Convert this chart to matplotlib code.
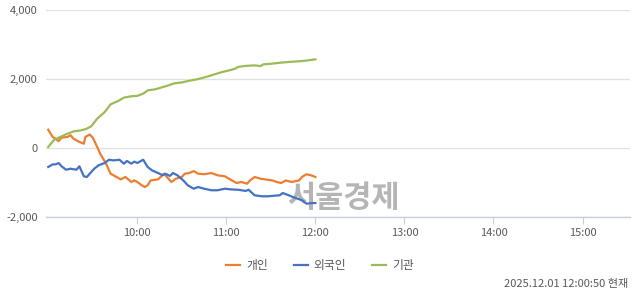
import matplotlib
matplotlib.use("Agg")
import matplotlib.pyplot as plt

plt.rcParams['font.family'] = ['Noto Sans CJK KR', 'DejaVu Sans']

# minutes since 09:00
green_t = [0, 4, 7, 13, 17, 22, 26, 29, 33, 38, 42, 47, 51, 56, 60, 64, 67, 72, 76, 81, 85, 90, 94, 99, 103, 108, 112, 117, 121, 126, 128, 133, 139, 143, 145, 151, 157, 164, 171, 175, 180]
green_v = [30, 240, 300, 415, 480, 510, 560, 630, 850, 1040, 1265, 1360, 1460, 1500, 1510, 1575, 1670, 1700, 1750, 1815, 1875, 1900, 1940, 1980, 2020, 2080, 2135, 2200, 2240, 2300, 2350, 2380, 2395, 2375, 2425, 2445, 2475, 2500, 2520, 2540, 2570]

orange_t = [0, 3, 5, 7, 9, 13, 15, 17, 21, 24, 25, 28, 30, 33, 35, 39, 42, 46, 49, 52, 56, 58, 60, 63, 65, 67, 69, 74, 78, 81, 83, 86, 90, 92, 95, 98, 101, 105, 110, 114, 119, 123, 127, 130, 134, 136, 139, 143, 146, 151, 154, 157, 160, 164, 169, 171, 174, 177, 180]
orange_v = [530, 320, 270, 200, 300, 320, 370, 270, 175, 125, 320, 390, 300, 30, -165, -455, -745, -840, -910, -840, -985, -940, -985, -1080, -1130, -1080, -940, -910, -745, -890, -985, -890, -840, -745, -725, -670, -745, -760, -725, -790, -820, -920, -1015, -985, -1035, -940, -840, -890, -910, -940, -985, -1015, -940, -985, -940, -840, -760, -790, -840]

blue_t = [0, 3, 5, 7, 9, 12, 15, 19, 21, 24, 26, 29, 31, 34, 38, 41, 44, 48, 51, 53, 56, 58, 60, 64, 67, 70, 75, 77, 79, 82, 84, 87, 91, 94, 98, 101, 105, 110, 114, 119, 123, 128, 133, 135, 139, 144, 148, 153, 156, 158, 162, 166, 171, 174, 178, 180]
blue_v = [-550, -475, -475, -435, -530, -630, -600, -630, -530, -820, -840, -695, -600, -500, -435, -340, -360, -340, -455, -375, -455, -395, -435, -340, -550, -650, -745, -790, -745, -810, -725, -790, -940, -1080, -1180, -1130, -1180, -1225, -1225, -1180, -1200, -1210, -1245, -1210, -1370, -1400, -1400, -1380, -1370, -1305, -1370, -1440, -1515, -1615, -1595, -1595]

series_names = ['개인', '외국인', '기관']
series_colors = ['#ED7D31', '#4472C4', '#9BBB59']
tick_labels = ['10:00', '11:00', '12:00', '13:00', '14:00', '15:00']
tick_pos = [60, 120, 180, 240, 300, 360]
y_ticks = [-2000, 0, 2000, 4000]

fig = plt.figure(figsize=(6.4, 2.94), dpi=100)
ax = fig.add_axes([46/640, (294-217)/294, (630-46)/640, (217-10)/294])

ax.plot(orange_t, orange_v, color=series_colors[0], lw=1.6, label=series_names[0], zorder=3)
ax.plot(blue_t, blue_v, color=series_colors[1], lw=1.6, label=series_names[1], zorder=3)
ax.plot(green_t, green_v, color=series_colors[2], lw=1.6, label=series_names[2], zorder=3)

ax.set_xlim(-1.5, 392)
ax.set_ylim(-2000, 4000)
ax.set_yticks(y_ticks)
ax.set_yticklabels([f"{v:,}" for v in y_ticks])
ax.set_xticks(tick_pos)
ax.set_xticklabels(tick_labels)
ax.grid(axis='y', color='#e2e2e2', lw=1)
ax.set_axisbelow(True)
for s in ['top', 'right', 'left']:
    ax.spines[s].set_visible(False)
ax.spines['bottom'].set_color('#c5cfdf')
ax.spines['bottom'].set_linewidth(1)
ax.tick_params(axis='y', length=0, labelsize=8, labelcolor='#595959', pad=6)
ax.tick_params(axis='x', length=5, color='#c5cfdf', labelsize=8, labelcolor='#595959', pad=3)

ax.text(0.51, 0.09, '서울경제', transform=ax.transAxes, ha='center', va='center',
        fontsize=22, fontweight='bold', color='#a8a8a8', alpha=0.85, zorder=2)

leg = fig.legend(loc='center', bbox_to_anchor=(0.5, (294-266)/294), ncol=3, frameon=False,
                 fontsize=8.5, handlelength=1.2, columnspacing=2.2, handletextpad=0.5)
for t in leg.get_texts():
    t.set_color('#595959')

fig.text(628/640, (294-284)/294, '2025.12.01 12:00:50 현재', ha='right', va='center',
         fontsize=8, color='#595959')

fig.savefig('out.png', dpi=100)
